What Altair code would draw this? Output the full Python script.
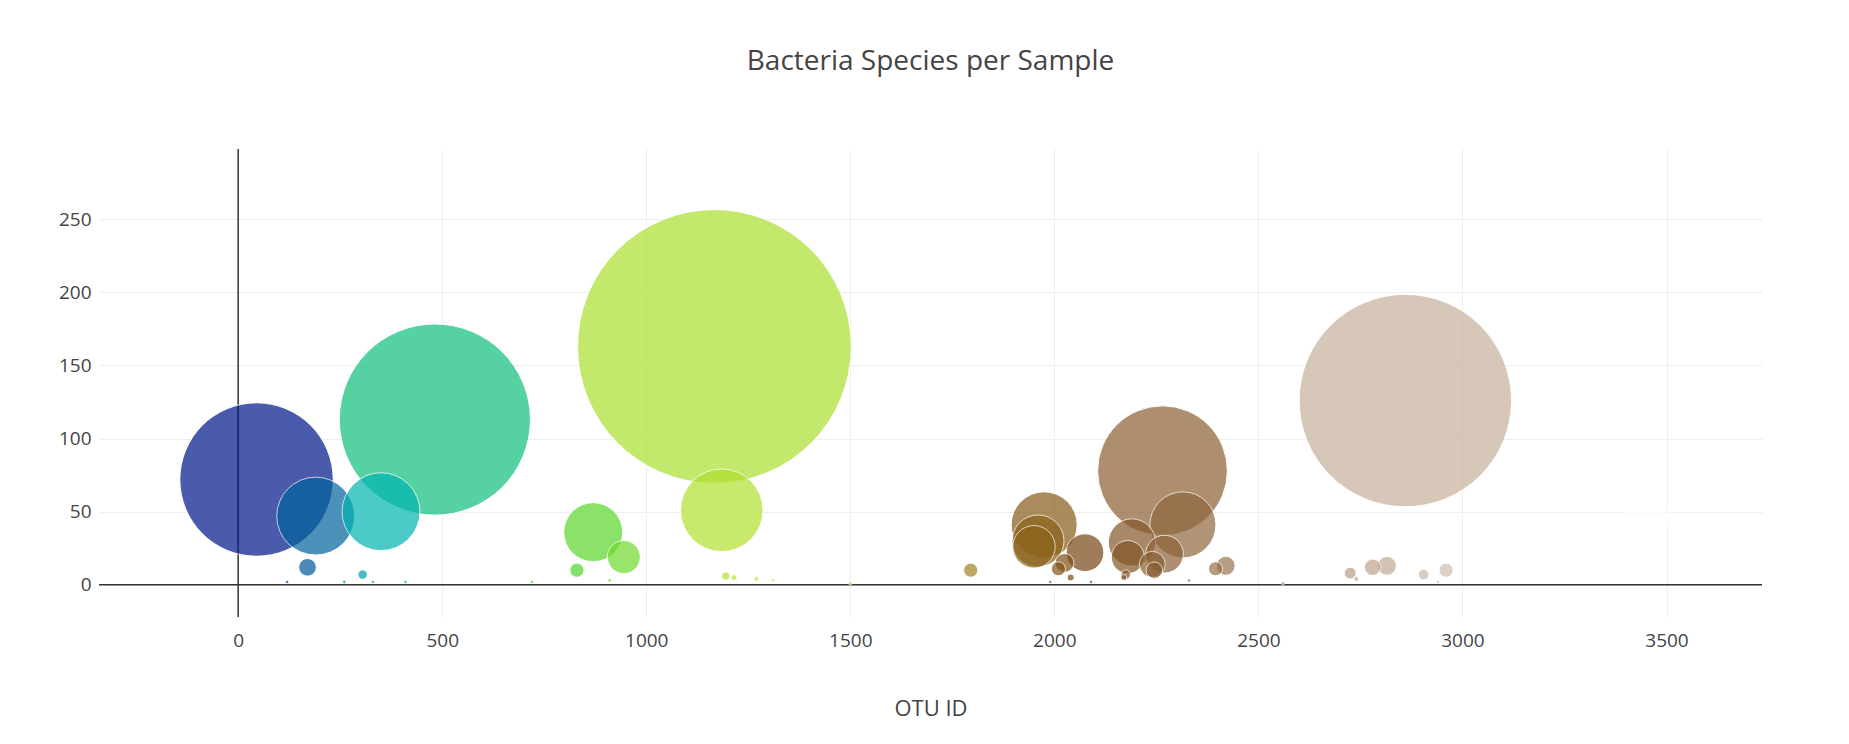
import altair as alt
import pandas as pd

otu_id = [45, 190, 170, 305, 350, 482, 870, 945, 830, 1167, 1185, 1195, 1215, 1270, 1795,
          1975, 1960, 1950, 2025, 2010, 2040, 2075, 2190, 2180, 2175, 2170, 2265, 2315, 2270,
          2240, 2245, 2395, 2420, 2725, 2740, 2780, 2815, 2860, 2905, 2960, 3450,
          120, 260, 330, 410, 720, 910, 1310, 1500, 1990, 2090, 2330, 2560, 2940]
sample_value = [72, 47, 12, 7, 50, 113, 36, 19, 10, 163, 51, 6, 5, 4, 10,
                41, 30, 26, 15, 11, 5, 22, 29, 19, 7, 5, 78, 41, 21,
                14, 10, 11, 13, 8, 4, 12, 13, 126, 7, 10, 45,
                2, 2, 2, 2, 2, 3, 3, 1, 2, 2, 3, 1, 2]
diameter = [130, 66, 15, 8, 66, 162, 50, 28, 12, 232, 70, 7, 5, 4, 12,
            56, 44, 36, 16, 12, 6, 32, 40, 28, 8, 5, 110, 56, 32,
            22, 14, 12, 16, 10, 4, 14, 16, 180, 9, 12, 40,
            3, 3, 3, 3, 3, 3, 3, 3, 3, 3, 3, 3, 3]

df = pd.DataFrame({"otu": otu_id, "val": sample_value, "d": diameter})

earth_dom = [0, 345, 690, 1380, 2070, 3450]
earth_rng = ["rgb(0,0,130)", "rgb(0,180,180)", "rgb(40,210,40)",
             "rgb(230,230,50)", "rgb(120,70,20)", "rgb(255,255,255)"]

xs = alt.Scale(domain=[-341, 3734], nice=False, zero=False)
ys = alt.Scale(domain=[-22, 298], nice=False, zero=False)

dmax = 232 * 1.18

bubbles = alt.Chart(df).mark_circle(opacity=0.7, stroke="white", strokeWidth=1).encode(
    x=alt.X("otu:Q", scale=xs, title="OTU ID",
            axis=alt.Axis(values=[0, 500, 1000, 1500, 2000, 2500, 3000, 3500], grid=True,
                          gridColor="#eeeeee", domain=False, ticks=False, labelPadding=14,
                          titlePadding=48, format="d")),
    y=alt.Y("val:Q", scale=ys, title=None,
            axis=alt.Axis(values=[0, 50, 100, 150, 200, 250], grid=True, gridColor="#eeeeee",
                          domain=False, ticks=False, labelPadding=8, format="d")),
    size=alt.Size("d:Q", scale=alt.Scale(type="pow", exponent=2, domain=[0, 232],
                                         range=[0, dmax * dmax]), legend=None),
    color=alt.Color("otu:Q", scale=alt.Scale(domain=earth_dom, range=earth_rng,
                                             interpolate="rgb"), legend=None),
    order=alt.Order("d:Q", sort="descending"),
)

zero_df = pd.DataFrame({"z": [0]})
hline = alt.Chart(zero_df).mark_rule(color="#333", strokeWidth=1.5).encode(y=alt.Y("z:Q", scale=ys))
vline = alt.Chart(zero_df).mark_rule(color="#333", strokeWidth=1.5).encode(x=alt.X("z:Q", scale=xs))

chart = alt.layer(hline, vline, bubbles).properties(
    width=1663, height=468,
    title=alt.TitleParams("Bacteria Species per Sample", fontSize=28, font="Open Sans",
                          fontWeight="normal", color="#444", offset=72, anchor="middle"),
).configure_view(stroke=None).configure_axis(
    labelFont="Open Sans", labelFontSize=19, labelColor="#444",
    titleFont="Open Sans", titleFontSize=22, titleColor="#444", titleFontWeight="normal"
).properties(padding={"left": 50, "top": 40, "right": 40, "bottom": 20})

chart.save("out.html", embed_options={"renderer": "svg", "actions": False})
